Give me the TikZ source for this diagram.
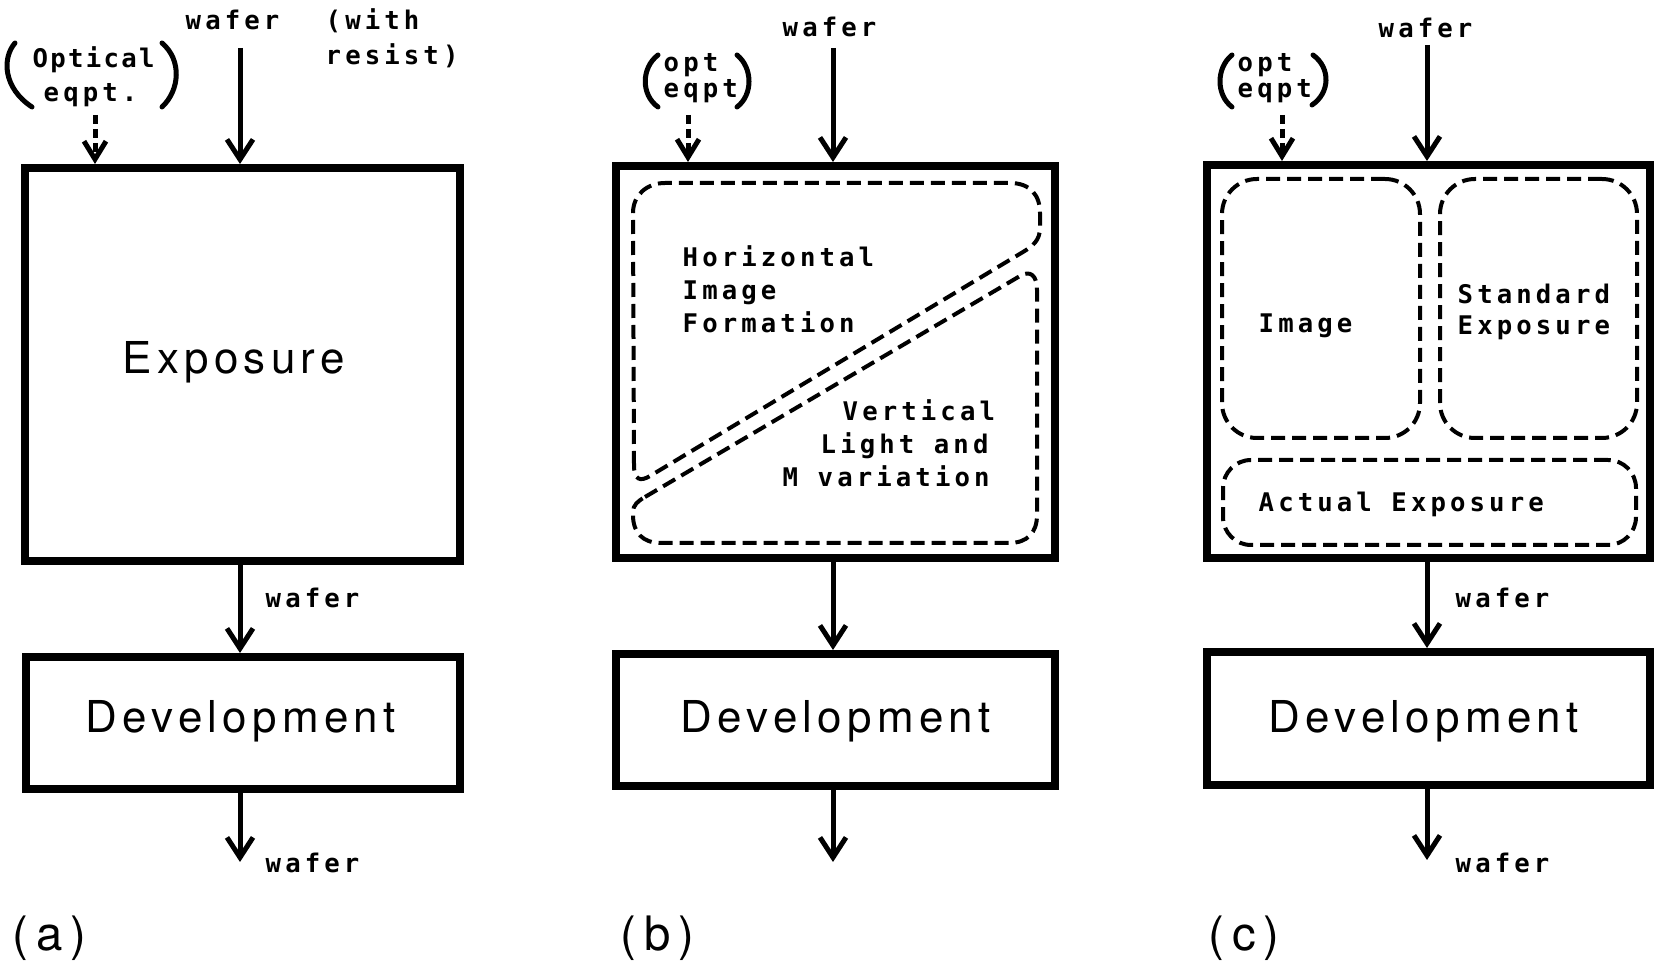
\documentclass[tikz,border=0pt]{standalone}
\usepackage{fontspec}
\usetikzlibrary{arrows.meta}
\newfontfamily\typefont{DejaVu Sans Mono Bold}[LetterSpace=16]
\newfontfamily\helvfont{TeX Gyre Heros}[LetterSpace=12]
\newfontfamily\tagfont{TeX Gyre Heros}[LetterSpace=16]

\tikzset{
  procbox/.style={draw, line width=0.8mm, inner sep=0pt},
  zone/.style={draw, line width=0.4mm, dash pattern=on 1.4mm off 0.7mm, inner sep=0pt},
  flow/.style={line width=0.5mm, -{Straight Barb[length=2mm, width=2.6mm]}},
  optflow/.style={line width=0.5mm, dash pattern=on 0.9mm off 0.5mm, -{Straight Barb[length=1.8mm, width=2.2mm]}},
  paren/.style={line width=0.5mm, line cap=round},
  mono/.style={font=\typefont\fontsize{7.3pt}{8.5pt}\selectfont, inner sep=0pt, anchor=base west},
  bigsans/.style={font=\helvfont\fontsize{12.5pt}{15pt}\selectfont, inner sep=0pt, anchor=base west},
  tag/.style={font=\tagfont\fontsize{13.5pt}{16pt}\selectfont, inner sep=0pt, anchor=base west},
}

\begin{document}
\begin{tikzpicture}[x=0.1mm, y=-0.1mm]
\useasboundingbox (0,0) rectangle (1655,967);

% ---------------- (a) ----------------
\node[procbox, minimum width=43.5mm, minimum height=39.3mm] (expA) at (242.5,364.5) {};
\node[procbox, minimum width=43.4mm, minimum height=13.2mm] (devA) at (243,723) {};
\node[bigsans] (expAtxt) at (122,374) {Exposure};
\node[bigsans] (devAtxt) at (85,733) {Development};

\coordinate (wA) at (240,48);
\coordinate (oA) at (95,115);
\coordinate (endA) at (240,862);
\draw[flow] (wA) -- (wA |- expA.north);
\draw[optflow] (oA) -- (oA |- expA.north);
\draw[flow] (expA.south -| wA) -- (devA.north -| wA);
\draw[flow] (devA.south -| wA) -- (endA);

\node[mono] (wAtop) at (185,30) {wafer};
\node[mono] (withA) at (325,30) {(with};
\node[mono] (resistA) at (325,65) {resist)};
\node[mono, font=\typefont\fontsize{7.3pt}{8.5pt}\selectfont\addfontfeature{LetterSpace=9}] (optA) at (32,68) {Optical};
\node[mono] (eqA) at (43,102) {eqpt.};
\draw[paren] (15,43) .. controls (2,58) and (3,88) .. (32,107);
\draw[paren] (162,43) .. controls (182,60) and (180,90) .. (162,107);
\node[mono] (wAmid) at (265,608) {wafer};
\node[mono] (wAbot) at (265,873) {wafer};
\node[tag] (tagA) at (12,950) {(a)};

% ---------------- (b) ----------------
\node[procbox, minimum width=43.9mm, minimum height=39.2mm] (expB) at (835.5,362) {};
\node[procbox, minimum width=43.9mm, minimum height=13.2mm] (devB) at (835.5,720) {};
\node[bigsans] (devBtxt) at (680,733) {Development};

\coordinate (wB) at (833,48);
\coordinate (oB) at (688,115);
\coordinate (endB) at (833,862);
\draw[flow] (wB) -- (wB |- expB.north);
\draw[optflow] (oB) -- (oB |- expB.north);
\draw[flow] (expB.south -| wB) -- (devB.north -| wB);
\draw[flow] (devB.south -| wB) -- (endB);

\node[mono] (wBtop) at (782,37) {wafer};
\node[mono] (optB) at (663,72) {opt};
\node[mono] (eqB) at (663,98) {eqpt};
\draw[paren] (658,55) .. controls (641,68) and (641,95) .. (658,107);
\draw[paren] (737,55) .. controls (753,68) and (753,95) .. (737,107);
\node[tag] (tagB) at (620,950) {(b)};

% horizontal image formation zone
\draw[zone] (634,465) -- (633,213) .. controls (633,195) and (647,183) .. (665,183)
  -- (1010,183) .. controls (1030,183) and (1040,195) .. (1040,213)
  -- (1040,228) .. controls (1040,240) and (1033,246) .. (1023,252)
  -- (650,476) .. controls (640,482) and (634,480) .. (634,465);
% vertical light and M variation zone
\draw[zone] (645,497) -- (1020,276) .. controls (1030,270) and (1037,275) .. (1037,290)
  -- (1037,515) .. controls (1037,533) and (1027,543) .. (1009,543)
  -- (661,543) .. controls (643,543) and (633,533) .. (633,515)
  -- (633,512) .. controls (633,505) and (638,501) .. (645,497);

\node[mono] (hB1) at (682,267) {Horizontal};
\node[mono] (hB2) at (682,300) {Image};
\node[mono] (hB3) at (682,333) {Formation};
\node[mono] (vB1) at (842,421) {Vertical};
\node[mono] (vB2) at (820,454) {Light and};
\node[mono] (vB3) at (782,487) {M variation};

% ---------------- (c) ----------------
\node[procbox, minimum width=44.3mm, minimum height=39.3mm] (expC) at (1428.5,361.5) {};
\node[procbox, minimum width=44.3mm, minimum height=13.3mm] (devC) at (1428.5,718.5) {};
\node[bigsans] (devCtxt) at (1268,733) {Development};

\node[zone, rounded corners=3.5mm, minimum width=19.8mm, minimum height=25.9mm] (imgC) at (1321,308.5) {};
\node[zone, rounded corners=3.5mm, minimum width=19.7mm, minimum height=25.9mm] (stdC) at (1538.5,308.5) {};
\node[zone, rounded corners=2.8mm, minimum width=41.3mm, minimum height=8.5mm] (actC) at (1429.5,502.5) {};

\node[mono] (imgCtxt) at (1258,333) {Image};
\node[mono] (stdC1) at (1457,304) {Standard};
\node[mono] (stdC2) at (1457,335) {Exposure};
\node[mono] (actCtxt) at (1258,512) {Actual Exposure};

\coordinate (wC) at (1427,45);
\coordinate (oC) at (1282,115);
\coordinate (endC) at (1427,860);
\draw[flow] (wC) -- (wC |- expC.north);
\draw[optflow] (oC) -- (oC |- expC.north);
\draw[flow] (expC.south -| wC) -- (devC.north -| wC);
\draw[flow] (devC.south -| wC) -- (endC);

\node[mono] (wCtop) at (1378,38) {wafer};
\node[mono] (optC) at (1237,72) {opt};
\node[mono] (eqC) at (1237,98) {eqpt};
\draw[paren] (1232,55) .. controls (1216,68) and (1216,95) .. (1232,107);
\draw[paren] (1313,55) .. controls (1331,68) and (1330,93) .. (1312,105);
\node[mono] (wCmid) at (1455,608) {wafer};
\node[mono] (wCbot) at (1455,873) {wafer};
\node[tag] (tagC) at (1208,950) {(c)};
\end{tikzpicture}
\end{document}
